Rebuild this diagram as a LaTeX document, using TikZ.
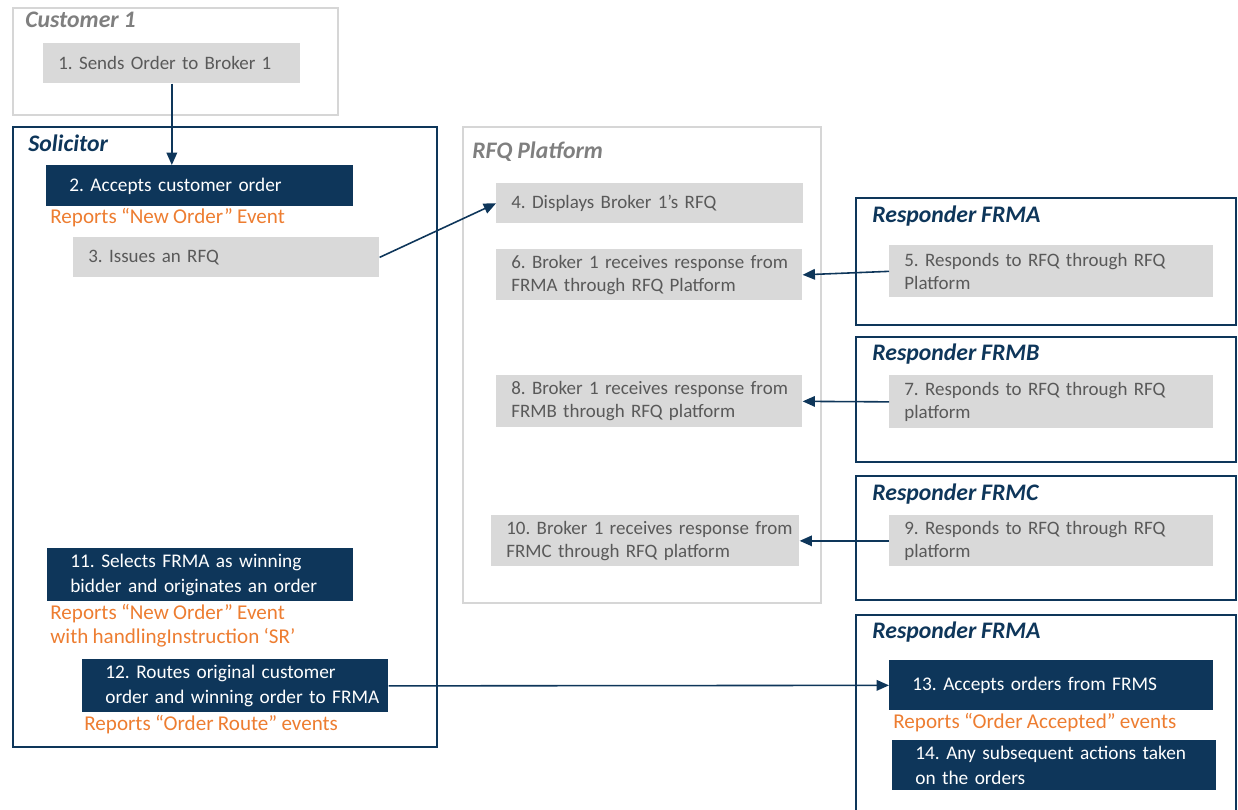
\documentclass[tikz,border=0pt]{standalone}
\usepackage{fontspec}
\setmainfont{Carlito}[WordSpace=0.9]
\frenchspacing
\usetikzlibrary{arrows.meta,positioning}
\definecolor{cNavy}{RGB}{14,54,90}
\definecolor{cBox}{RGB}{217,217,217}
\definecolor{cText}{RGB}{89,89,89}
\definecolor{cFrame}{RGB}{214,214,214}
\definecolor{cTitle}{RGB}{127,127,127}
\definecolor{cEvent}{RGB}{237,125,49}
\tikzset{
  lanebox/.style={rectangle,draw=cNavy,line width=1.2pt,anchor=north west,inner sep=0pt},
  sidebox/.style={rectangle,draw=cFrame,line width=1.2pt,anchor=north west,inner sep=0pt},
  lanetitle/.style={anchor=west,inner sep=0pt,text=cNavy,
                    font=\fontsize{13.5}{15}\selectfont\bfseries\itshape},
  sidetitle/.style={lanetitle,text=cTitle},
  graynode/.style={rectangle,fill=cBox,text=cText,anchor=north west,inner xsep=0pt,
                   align=left,text width=#1,font=\fontsize{10.8}{13}\selectfont,
                   execute at begin node={\leftskip=0.3cm\rightskip=-0.3cm plus 1fil}},
  navynode/.style={rectangle,fill=cNavy,text=white,anchor=north west,inner xsep=0pt,
                   align=left,text width=#1,font=\fontsize{11}{14}\selectfont,
                   execute at begin node={\leftskip=0.46cm\rightskip=-0.3cm plus 1fil}},
  evtnote/.style={inner sep=0pt,align=left,text=cEvent,
                  font=\fontsize{12}{14}\selectfont},
  arr/.style={-{Triangle[length=7pt,width=6pt]},line width=0.9pt,color=cNavy}
}
\begin{document}
\begin{tikzpicture}[x=0.02cm,y=-0.02cm]
  \useasboundingbox (0,0) rectangle (1238,809);

  % swim lanes
  \node[sidebox,minimum width=6.5cm,minimum height=2.14cm] (cust) at (12,7) {};
  \node[lanebox,minimum width=8.48cm,minimum height=12.4cm] (sol) at (12,126) {};
  \node[sidebox,minimum width=7.16cm,minimum height=9.52cm] (rfq) at (462,126) {};
  \node[lanebox,minimum width=7.6cm,minimum height=2.54cm] (frma) at (855,197) {};
  \node[lanebox,minimum width=7.6cm,minimum height=2.5cm] (frmb) at (855,336) {};
  \node[lanebox,minimum width=7.6cm,minimum height=2.48cm] (frmc) at (855,475) {};
  \node[lanebox,minimum width=7.6cm,minimum height=4cm] (frmz) at (855,614) {};

  \node[sidetitle] (custT) at (25,20) {Customer 1};
  \node[lanetitle] (solT) at (28,143) {Solicitor};
  \node[sidetitle] (rfqT) at (472,152) {RFQ Platform};
  \node[lanetitle] (frmaT) at (872,216) {Responder FRMA};
  \node[lanetitle] (frmbT) at (872,354) {Responder FRMB};
  \node[lanetitle] (frmcT) at (872,494) {Responder FRMC};
  \node[lanetitle] (frmzT) at (872,632) {Responder FRMA};

  % customer and solicitor
  \node[graynode=5.14cm,minimum height=0.8cm] (s1) at (43,43) {1. Sends Order to Broker 1};
  \node[navynode=6.14cm,minimum height=0.82cm] (s2) at (46,165) {2. Accepts customer order};
  \node[evtnote,below right=0.02cm and 0.08cm of s2.south west] (e2)
      {Reports “New Order” Event};
  \node[graynode=6.12cm,minimum height=0.8cm] (s3) at (73,237) {3. Issues an RFQ};
  \node[navynode=6.12cm,minimum height=1.04cm] (s11) at (47,548)
      {11. Selects FRMA as winning\\bidder and originates an order};
  \node[evtnote,below right=0.04cm and 0.06cm of s11.south west] (e11)
      {Reports “New Order” Event\\with handlingInstruction ‘SR’};
  \node[navynode=6.12cm,minimum height=1.02cm] (s12) at (82,659)
      {12. Routes original customer\\order and winning order to FRMA};
  \node[evtnote,below right=0.04cm and 0.04cm of s12.south west] (e12)
      {Reports “Order Route” events};

  % rfq platform
  \node[graynode=6.14cm,minimum height=0.8cm] (s4) at (496,183) {4. Displays Broker 1's RFQ};
  \node[graynode=6.12cm,minimum height=1.02cm] (s6) at (496,249)
      {6. Broker 1 receives response from\\FRMA through RFQ Platform};
  \node[graynode=6.12cm,minimum height=1.04cm] (s8) at (496,375)
      {8. Broker 1 receives response from\\FRMB through RFQ platform};
  \node[graynode=6.16cm,minimum height=1.02cm] (s10) at (491,515)
      {10. Broker 1 receives response from\\FRMC through RFQ platform};

  % responders
  \node[graynode=6.48cm,minimum height=1.04cm] (s5) at (889,245)
      {5. Responds to RFQ through RFQ\\Platform};
  \node[graynode=6.48cm,minimum height=1.06cm] (s7) at (889,375)
      {7. Responds to RFQ through RFQ\\platform};
  \node[graynode=6.48cm,minimum height=1.02cm] (s9) at (889,515)
      {9. Responds to RFQ through RFQ\\platform};
  \node[navynode=6.48cm,minimum height=1cm] (s13) at (889,660) {13. Accepts orders from FRMS};
  \node[evtnote,below right=0.04cm and 0.08cm of s13.south west] (e13)
      {Reports “Order Accepted” events};
  \node[navynode=6.48cm,minimum height=1cm] (s14) at (892,740)
      {14. Any subsequent actions taken\\on the orders};

  % flow
  \draw[arr] (s1.south) -- (s1.south |- s2.north);
  \draw[arr] (s3.east) -- (s4.west);
  \draw[arr] (s5.west) -- (s6.east);
  \draw[arr] (s7.west) -- (s8.east);
  \draw[arr] (s9.west) -- (s10.east);
  \draw[arr] (s12.east) -- (s13.west);
\end{tikzpicture}
\end{document}
